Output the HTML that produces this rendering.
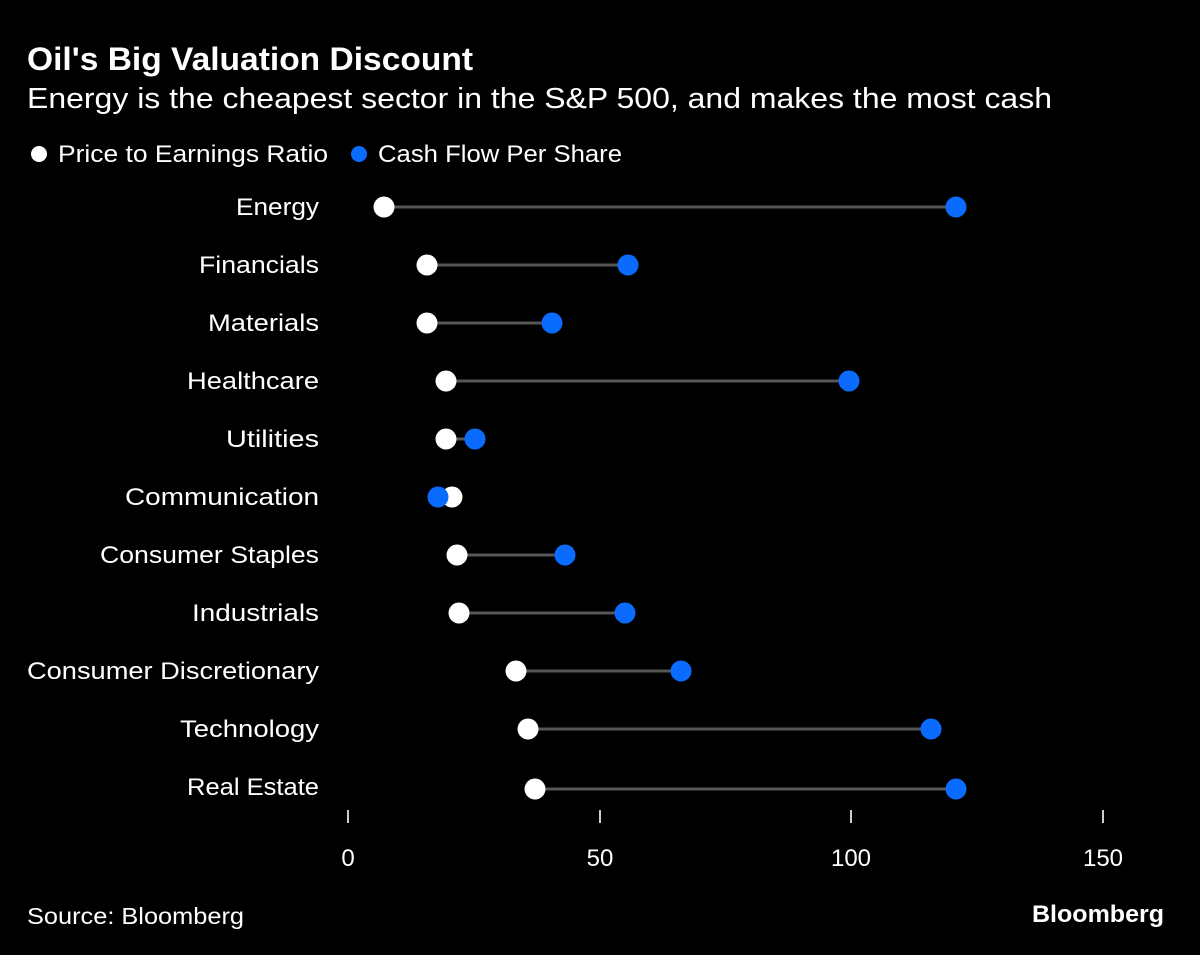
<!DOCTYPE html>
<html><head><style>
html,body{margin:0;padding:0;background:#000;}
svg{display:block;}
text{font-family:"Liberation Sans",sans-serif;fill:#fff;}
</style></head><body>
<svg width="1200" height="955" viewBox="0 0 1200 955" xmlns="http://www.w3.org/2000/svg">
<rect width="1200" height="955" fill="#000"/>
<text x="27" y="70" font-size="32" font-weight="bold" textLength="446" lengthAdjust="spacingAndGlyphs">Oil's Big Valuation Discount</text>
<text x="27" y="108" font-size="29" fill="#fff" textLength="1025" lengthAdjust="spacingAndGlyphs">Energy is the cheapest sector in the S&amp;P 500, and makes the most cash</text>
<circle cx="39" cy="154" r="8" fill="#fff"/>
<text x="58" y="162" font-size="24" fill="#ddd" textLength="270" lengthAdjust="spacingAndGlyphs">Price to Earnings Ratio</text>
<circle cx="359" cy="154" r="8" fill="#0a6cff"/>
<text x="378" y="162" font-size="24" fill="#ddd" textLength="244" lengthAdjust="spacingAndGlyphs">Cash Flow Per Share</text>
<g font-size="24" text-anchor="end" fill="#ddd">
<text x="319" y="215" textLength="83" lengthAdjust="spacingAndGlyphs">Energy</text>
<text x="319" y="273" textLength="120" lengthAdjust="spacingAndGlyphs">Financials</text>
<text x="319" y="331" textLength="111" lengthAdjust="spacingAndGlyphs">Materials</text>
<text x="319" y="389" textLength="132" lengthAdjust="spacingAndGlyphs">Healthcare</text>
<text x="319" y="447" textLength="93" lengthAdjust="spacingAndGlyphs">Utilities</text>
<text x="319" y="505" textLength="194" lengthAdjust="spacingAndGlyphs">Communication</text>
<text x="319" y="563" textLength="219" lengthAdjust="spacingAndGlyphs">Consumer Staples</text>
<text x="319" y="621" textLength="127" lengthAdjust="spacingAndGlyphs">Industrials</text>
<text x="319" y="679" textLength="292" lengthAdjust="spacingAndGlyphs">Consumer Discretionary</text>
<text x="319" y="737" textLength="139" lengthAdjust="spacingAndGlyphs">Technology</text>
<text x="319" y="795" textLength="132" lengthAdjust="spacingAndGlyphs">Real Estate</text>
</g>
<g stroke="#555" stroke-width="3">
<line x1="384" y1="207" x2="956" y2="207"/>
<line x1="427" y1="265" x2="628" y2="265"/>
<line x1="427" y1="323" x2="552" y2="323"/>
<line x1="446" y1="381" x2="849" y2="381"/>
<line x1="446" y1="439" x2="475" y2="439"/>
<line x1="438" y1="497" x2="452" y2="497"/>
<line x1="457" y1="555" x2="565" y2="555"/>
<line x1="459" y1="613" x2="625" y2="613"/>
<line x1="516" y1="671" x2="681" y2="671"/>
<line x1="528" y1="729" x2="931" y2="729"/>
<line x1="535" y1="789" x2="956" y2="789"/>
</g>
<g fill="#0a6cff">
<circle cx="956" cy="207" r="10.5"/><circle cx="628" cy="265" r="10.5"/><circle cx="552" cy="323" r="10.5"/>
<circle cx="849" cy="381" r="10.5"/><circle cx="475" cy="439" r="10.5"/>
<circle cx="565" cy="555" r="10.5"/><circle cx="625" cy="613" r="10.5"/><circle cx="681" cy="671" r="10.5"/>
<circle cx="931" cy="729" r="10.5"/><circle cx="956" cy="789" r="10.5"/>
</g>
<g fill="#fff">
<circle cx="384" cy="207" r="10.5"/><circle cx="427" cy="265" r="10.5"/><circle cx="427" cy="323" r="10.5"/>
<circle cx="446" cy="381" r="10.5"/><circle cx="446" cy="439" r="10.5"/><circle cx="452" cy="497" r="10.5"/>
<circle cx="457" cy="555" r="10.5"/><circle cx="459" cy="613" r="10.5"/><circle cx="516" cy="671" r="10.5"/>
<circle cx="528" cy="729" r="10.5"/><circle cx="535" cy="789" r="10.5"/>
</g>
<circle cx="438" cy="497" r="10.5" fill="#0a6cff"/>
<g stroke="#ccc" stroke-width="2">
<line x1="348" y1="810" x2="348" y2="823"/><line x1="600" y1="810" x2="600" y2="823"/>
<line x1="851" y1="810" x2="851" y2="823"/><line x1="1103" y1="810" x2="1103" y2="823"/>
</g>
<g font-size="24" text-anchor="middle" fill="#ddd">
<text x="348" y="866">0</text><text x="600" y="866">50</text><text x="851" y="866">100</text><text x="1103" y="866">150</text>
</g>
<text x="27" y="924" font-size="23" fill="#ccc" textLength="217" lengthAdjust="spacingAndGlyphs">Source: Bloomberg</text>
<text x="1164" y="922" font-size="24" font-weight="bold" text-anchor="end" textLength="132" lengthAdjust="spacingAndGlyphs">Bloomberg</text>
</svg>
</body></html>
